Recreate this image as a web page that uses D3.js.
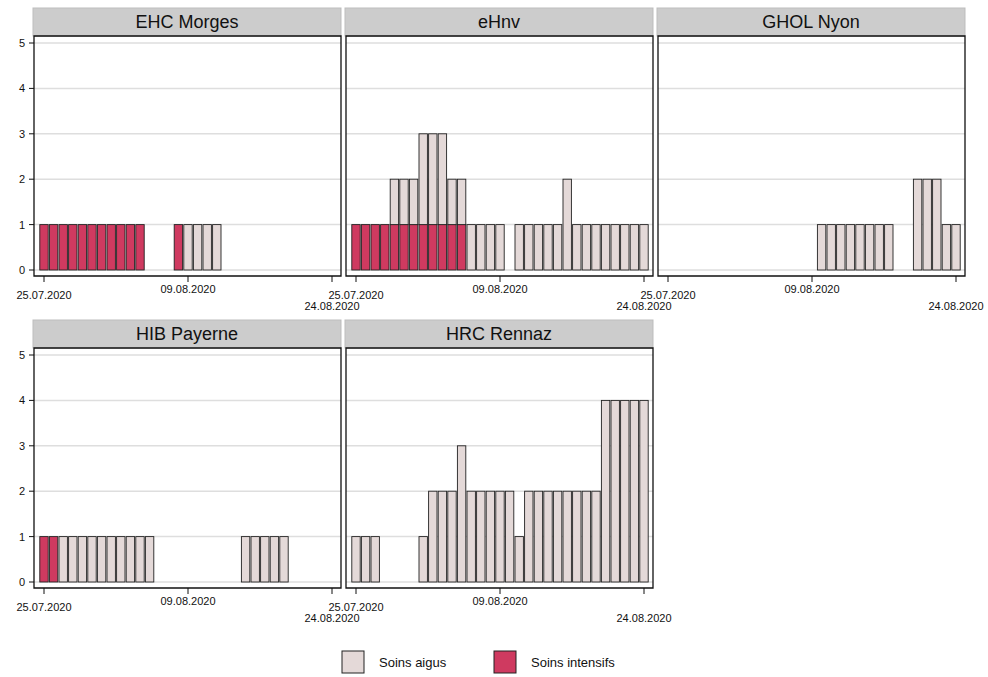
<!DOCTYPE html>
<html>
<head>
<meta charset="utf-8">
<script src="https://cdn.jsdelivr.net/npm/d3@7"></script>
<style>
  body { margin: 0; background: #fff; font-family: "Liberation Sans", Arial, sans-serif; }
</style>
</head>
<body>
<svg id="chart" width="988" height="677"></svg>
<script>
const hospitals = ["EHC Morges", "eHnv", "GHOL Nyon", "HIB Payerne", "HRC Rennaz"];
const startDate = new Date(2020, 6, 25);
const dayCount = 31;
const tickDates = [new Date(2020, 6, 25), new Date(2020, 7, 9), new Date(2020, 7, 24)];
const yTicks = [0, 1, 2, 3, 4, 5];
const seriesNames = ["Soins intensifs", "Soins aigus"];
const seriesColors = ["#cf3a60", "#e4d9d8"];

// one value per day, 25.07 .. 24.08
const intensifs = {
  "EHC Morges": [1,1,1,1,1,1,1,1,1,1,1,0,0,0,1,0,0,0,0,0,0,0,0,0,0,0,0,0,0,0,0],
  "eHnv":       [1,1,1,1,1,1,1,1,1,1,1,1,0,0,0,0,0,0,0,0,0,0,0,0,0,0,0,0,0,0,0],
  "GHOL Nyon":  [0,0,0,0,0,0,0,0,0,0,0,0,0,0,0,0,0,0,0,0,0,0,0,0,0,0,0,0,0,0,0],
  "HIB Payerne":[1,1,0,0,0,0,0,0,0,0,0,0,0,0,0,0,0,0,0,0,0,0,0,0,0,0,0,0,0,0,0],
  "HRC Rennaz": [0,0,0,0,0,0,0,0,0,0,0,0,0,0,0,0,0,0,0,0,0,0,0,0,0,0,0,0,0,0,0]
};
const aigus = {
  "EHC Morges": [0,0,0,0,0,0,0,0,0,0,0,0,0,0,0,1,1,1,1,0,0,0,0,0,0,0,0,0,0,0,0],
  "eHnv":       [0,0,0,0,1,1,1,2,2,2,1,1,1,1,1,1,0,1,1,1,1,1,2,1,1,1,1,1,1,1,1],
  "GHOL Nyon":  [0,0,0,0,0,0,0,0,0,0,0,0,0,0,0,0,1,1,1,1,1,1,1,1,0,0,2,2,2,1,1],
  "HIB Payerne":[0,0,1,1,1,1,1,1,1,1,1,1,0,0,0,0,0,0,0,0,0,1,1,1,1,1,0,0,0,0,0],
  "HRC Rennaz": [1,1,1,0,0,0,0,1,2,2,2,3,2,2,2,2,2,1,2,2,2,2,2,2,2,2,4,4,4,4,4]
};

const svg = d3.select("#chart");
const fmt = d3.timeFormat("%d.%m.%Y");
const panelW = 308, stripH = 28, plotH = 240;
const colX = [33, 345, 657];
const rowY = [8, 320];

const days = d3.range(dayCount).map((i) => d3.timeDay.offset(startDate, i));

hospitals.forEach((name, idx) => {
  const col = idx % 3, row = Math.floor(idx / 3);
  const g = svg.append("g").attr("transform", `translate(${colX[col]},${rowY[row]})`);
  const top = stripH;

  const x = d3.scaleTime()
    .domain([startDate, days[dayCount - 1]])
    .range([11, panelW - 9]);
  const y = d3.scaleLinear().domain([0, 5]).range([top + 234, top + 7]);

  // strip
  g.append("rect").attr("x", 0).attr("y", 0).attr("width", panelW).attr("height", stripH)
    .attr("fill", "#cccccc").attr("stroke", "#bdbdbd");
  g.append("text").attr("x", panelW / 2).attr("y", 20).attr("text-anchor", "middle")
    .attr("font-size", 18).attr("fill", "#111").text(name);

  // gridlines
  g.selectAll(".grid").data(yTicks).enter().append("line")
    .attr("x1", 1).attr("x2", panelW).attr("y1", (d) => y(d)).attr("y2", (d) => y(d))
    .attr("stroke", "#dedede").attr("stroke-width", 1.5);

  // stacked bars
  const rows = days.map((d, i) => ({ date: d, v0: intensifs[name][i], v1: aigus[name][i] }));
  const bw = 8.4;
  rows.forEach((r) => {
    const cx = x(r.date);
    if (r.v0 > 0) {
      g.append("rect").attr("x", cx - bw / 2).attr("width", bw)
        .attr("y", y(r.v0)).attr("height", y(0) - y(r.v0))
        .attr("fill", seriesColors[0]).attr("stroke", "#222").attr("stroke-width", 0.9);
    }
    if (r.v1 > 0) {
      g.append("rect").attr("x", cx - bw / 2).attr("width", bw)
        .attr("y", y(r.v0 + r.v1)).attr("height", y(r.v0) - y(r.v0 + r.v1))
        .attr("fill", seriesColors[1]).attr("stroke", "#222").attr("stroke-width", 0.9);
    }
  });

  // panel frame
  const bottom = top + plotH;
  g.append("path")
    .attr("d", `M1,${top}H${panelW}V${bottom}H1Z`)
    .attr("fill", "none").attr("stroke", "#111").attr("stroke-width", 1.3);

  // x axis ticks + staggered labels
  const xa = g.append("g").attr("transform", `translate(0,${bottom})`);
  xa.selectAll("line").data(tickDates).enter().append("line")
    .attr("x1", (d) => x(d)).attr("x2", (d) => x(d)).attr("y1", 0).attr("y2", 6)
    .attr("stroke", "#111");
  const labelDy = [23, 17, 34];
  xa.selectAll("text").data(tickDates).enter().append("text")
    .attr("x", (d) => x(d)).attr("y", (d, i) => labelDy[i])
    .attr("text-anchor", "middle").attr("font-size", 11).attr("fill", "#111")
    .text((d) => fmt(d));

  // y axis on left column
  if (col === 0) {
    const ya = g.append("g").attr("transform", "translate(1,0)");
    ya.selectAll("line").data(yTicks).enter().append("line")
      .attr("x1", -5).attr("x2", 0).attr("y1", (d) => y(d)).attr("y2", (d) => y(d))
      .attr("stroke", "#111");
    ya.selectAll("text").data(yTicks).enter().append("text")
      .attr("x", -12).attr("y", (d) => y(d) + 4).attr("text-anchor", "middle")
      .attr("font-size", 11).attr("fill", "#111").text((d) => d);
  }
});

// legend
const legendItems = [
  { label: "Soins aigus", color: seriesColors[1], x: 342 },
  { label: "Soins intensifs", color: seriesColors[0], x: 494 }
];
const lg = svg.selectAll(".legend").data(legendItems).enter().append("g")
  .attr("transform", (d) => `translate(${d.x},651)`);
lg.append("rect").attr("width", 22).attr("height", 22)
  .attr("fill", (d) => d.color).attr("stroke", "#222");
lg.append("text").attr("x", 37).attr("y", 16).attr("font-size", 13).attr("fill", "#111")
  .text((d) => d.label);
</script>
</body>
</html>
